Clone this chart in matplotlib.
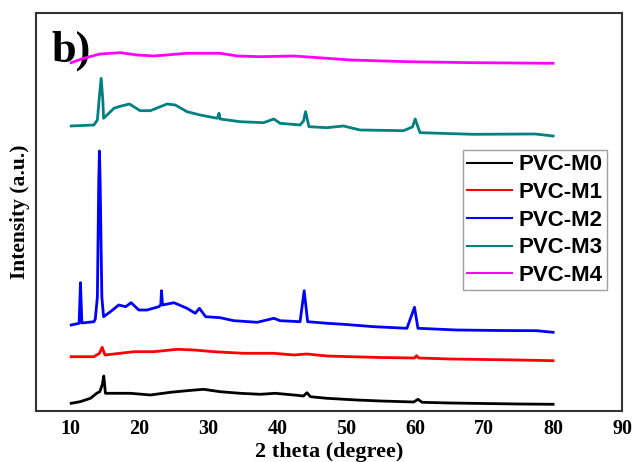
import matplotlib
matplotlib.use('Agg')
import matplotlib.pyplot as plt

# 2 theta (degree) / intensity (a.u., offset stacked)
m0_x = [10.1, 11.4, 12.9, 13.8, 14.25, 14.6, 14.83, 15.07, 16.3, 18.7, 21.6, 24.5, 26.9,
        29.3, 31.7, 34.6, 37.5, 39.7, 42.4, 43.8, 44.3, 44.8, 47.2, 51.5, 55.0, 59.8,
        60.4, 61.0, 65.0, 70.0, 75.0, 80.0]
m0_y = [7.7, 9.3, 12.7, 17.7, 19.3, 26, 35, 17.7, 17.7, 17.7, 16, 18.7, 20.3,
        21.7, 19.3, 17.7, 16.7, 17.7, 16, 15, 18.3, 14.3, 12.7, 11, 10, 9,
        11.7, 8.7, 8, 7.5, 7, 6.7]

m1_x = [10.1, 13.4, 14.2, 14.6, 15.0, 17.2, 19.2, 22.1, 25.5, 27.9, 30.8, 35.1, 39.5,
        42.4, 44.3, 47.2, 50.6, 55.0, 59.9, 60.2, 60.5, 65.0, 70.0, 75.0, 80.0]
m1_y = [54.3, 54.3, 57.7, 63.7, 56, 57.7, 59.3, 59.3, 61.7, 61, 59.3, 57.7, 57.7,
        56, 57, 55, 54.3, 53.5, 53, 55.3, 53, 52, 51.5, 51, 50.3]

m2_x = [10.1, 11.25, 11.45, 11.65, 13.4, 13.6, 13.9, 14.1, 14.2, 14.3, 14.55, 14.8, 15.8,
        17.0, 18.0, 18.8, 19.9, 21.1, 22.8, 23.1, 23.2, 23.35, 25.0, 26.9, 28.1, 28.7,
        29.6, 31.7, 33.7, 37.1, 39.5, 40.4, 43.3, 43.9, 44.4, 47.2, 49.6, 54.0, 58.8,
        59.9, 60.4, 66.0, 72.0, 77.6, 80.0]
m2_y = [86, 87.7, 128.3, 88, 89.3, 92, 114, 230, 260, 230, 114, 94.3, 99.3,
        106, 104.3, 108.3, 101, 101, 104.3, 106, 120.3, 106, 108.3, 102.7, 97.7, 102.7,
        94.3, 93.3, 90.3, 88.7, 92.7, 90.3, 89.3, 120.3, 89.3, 87.7, 86.7, 84.3, 82.7,
        103.7, 82.7, 81, 80.5, 80.3, 78.7]

m3_x = [10.1, 13.4, 13.9, 14.2, 14.45, 14.7, 14.8, 16.3, 17.0, 18.55, 20.1, 21.6, 24.0,
        25.2, 26.9, 28.8, 31.3, 31.55, 31.7, 34.6, 38.0, 39.5, 40.4, 43.3, 43.8, 44.1,
        44.4, 44.6, 47.2, 49.6, 52.0, 58.3, 59.6, 60.0, 60.4, 60.7, 68.4, 77.4, 80.0]
m3_y = [285, 286, 291, 315, 332.7, 310, 292.7, 302.7, 304.3, 307, 300.3, 300.3, 307,
        306, 299.3, 296, 292.7, 297.7, 292, 289.3, 288.3, 292, 287.7, 286, 290, 299.3,
        290, 284.3, 283.3, 285, 281, 280.3, 284, 292, 284, 278.3, 276.7, 277, 275]

m4_x = [10.1, 11.9, 14.3, 17.2, 19.7, 22.1, 26.9, 31.7, 34.2, 37.5, 42.4, 47.2, 50.6,
        58.8, 68.4, 80.0]
m4_y = [348.3, 352.7, 357, 358.3, 356, 355, 357.7, 357.7, 355, 354.3, 355, 352.7, 351,
        349.3, 348.3, 347.7]

labels = ['PVC-M0', 'PVC-M1', 'PVC-M2', 'PVC-M3', 'PVC-M4']
colors = ['black', '#FF0000', '#0000FF', '#008080', '#FF00FF']
x_ticks = [10, 20, 30, 40, 50, 60, 70, 80, 90]


def main():
    fig = plt.figure(figsize=(6.34, 4.62), dpi=100)
    ax = fig.add_axes([0.0568, 0.1104, 0.9243, 0.8615])

    series = [(m0_x, m0_y), (m1_x, m1_y), (m2_x, m2_y), (m3_x, m3_y), (m4_x, m4_y)]
    for (xs, ys), lab, col in zip(series, labels, colors):
        ax.plot(xs, ys, color=col, linewidth=2.0, label=lab)

    ax.set_xlim(5, 90)
    ax.set_ylim(0, 398)
    ax.set_xticks(x_ticks)
    ax.set_yticks([])
    ax.tick_params(axis='x', length=0, pad=6)
    for lbl in ax.get_xticklabels():
        lbl.set_fontfamily('Liberation Serif')
        lbl.set_fontweight('bold')
        lbl.set_fontsize(14.5)

    for sp in ax.spines.values():
        sp.set_color('#333333')
        sp.set_linewidth(1.5)

    ax.set_xlabel('2 theta (degree)', family='Liberation Serif', weight='bold',
                  fontsize=16, labelpad=2)
    ax.set_ylabel('Intensity (a.u.)', family='Liberation Serif', weight='bold',
                  fontsize=15.5, labelpad=4)

    ax.text(0.027, 0.877, 'b)', transform=ax.transAxes, family='Liberation Serif',
            weight='bold', fontsize=32, va='baseline', ha='left', zorder=0)

    legend = ax.legend(loc='upper right', bbox_to_anchor=(0.974, 0.656),
                       borderaxespad=0, fancybox=False, handlelength=2.0,
                       labelspacing=0.3, handletextpad=0.3, borderpad=0.2,
                       prop={'family': 'Liberation Sans', 'weight': 'bold', 'size': 16})
    legend.get_frame().set_edgecolor('#888888')
    legend.get_frame().set_linewidth(1.0)
    for line in legend.get_lines():
        line.set_linewidth(1.5)

    fig.savefig('out.png', dpi=100)


if __name__ == '__main__':
    main()
